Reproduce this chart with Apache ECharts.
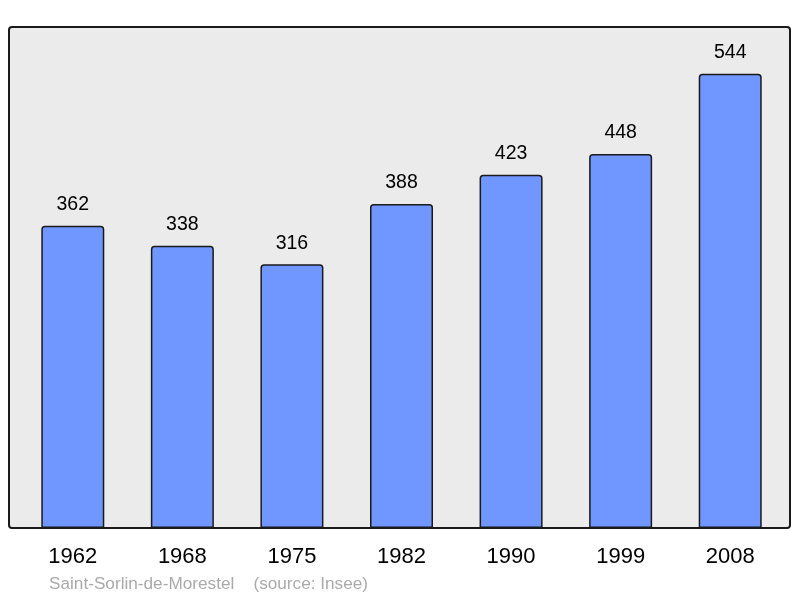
<!DOCTYPE html>
<html>
<head>
<meta charset="utf-8">
<script src="https://cdn.jsdelivr.net/npm/echarts@6/dist/echarts.min.js"></script>
<style>html,body{margin:0;padding:0;background:#fff}#c{width:800px;height:598px}</style>
</head>
<body>
<div id="c"></div>
<script>
const years = ['1962','1968','1975','1982','1990','1999','2008'];
const population = [362, 338, 316, 388, 423, 448, 544];
const footerText = 'Saint-Sorlin-de-Morestel    (source: Insee)';

const FONT = 'Liberation Sans, Arial, sans-serif';
const chart = echarts.init(document.getElementById('c'), null, {renderer: 'canvas'});
chart.setOption({
  animation: false,
  backgroundColor: '#ffffff',
  textStyle: {fontFamily: FONT},
  graphic: [
    {type: 'rect', z: 0, shape: {x: 9, y: 27, width: 781, height: 501, r: 3},
     style: {fill: '#ebebeb', stroke: '#1a1a1a', lineWidth: 2}},
    {type: 'text', left: 49, top: 576, z: 10,
     style: {text: footerText, fill: '#aaaaaa', fontSize: 17.2, fontFamily: FONT}}
  ],
  grid: {left: 18, right: 15, top: 27, bottom: 70, containLabel: false},
  xAxis: {
    type: 'category', data: years,
    axisLine: {show: false}, axisTick: {show: false},
    axisLabel: {fontSize: 22, color: '#000', margin: 18, fontFamily: FONT}
  },
  yAxis: {type: 'value', min: 0, max: 600, show: false, splitLine: {show: false}},
  series: [{
    type: 'bar', data: population, barWidth: 63, z: 5,
    itemStyle: {color: '#7096ff', borderColor: '#1a1a1a', borderWidth: 1.5, borderRadius: [3,3,0,0]},
    label: {show: true, position: 'top', distance: 11, fontSize: 19.5, color: '#000', fontFamily: FONT}
  }]
});
</script>
</body>
</html>
